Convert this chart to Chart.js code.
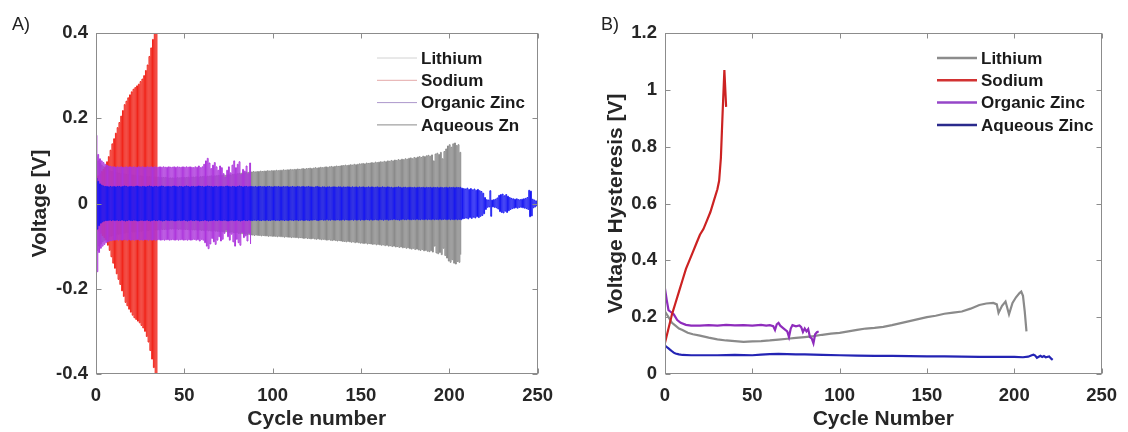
<!DOCTYPE html>
<html>
<head>
<meta charset="utf-8">
<script src="https://cdn.jsdelivr.net/npm/chart.js@4.4.1/dist/chart.umd.min.js"></script>
<style>
  body { margin: 0; background: #fff; }
  #wrap { position: relative; width: 1128px; height: 432px; }
  canvas { position: absolute; top: 0; }
  #chartA { left: 0; }
  #chartB { left: 564px; }
  .tag { position: absolute; top: 14px; font: 18px "Liberation Sans", Arial, sans-serif; color: #222; }
</style>
</head>
<body>
<div id="wrap">
  <canvas id="chartA" width="564" height="432"></canvas>
  <canvas id="chartB" width="564" height="432"></canvas>
  <div class="tag" style="left:12px">A)</div>
  <div class="tag" style="left:601px">B)</div>
</div>
<script>
const FONT = '"Liberation Sans", Arial, sans-serif';

const cycleTicks = [0, 50, 100, 150, 200, 250];
const voltageTicks = [-0.4, -0.2, 0, 0.2, 0.4];
const hysteresisTicks = [0, 0.2, 0.4, 0.6, 0.8, 1, 1.2];
const namesA = ['Lithium', 'Sodium', 'Organic Zinc', 'Aqueous Zn'];
const namesB = ['Lithium', 'Sodium', 'Organic Zinc', 'Aqueous Zinc'];

// half peak-to-peak voltage swing of each cycle, in mV
const liSwing = [
  110, 100, 95, 90, 86, 83, 80, 78, 76, 75,
  74, 73, 72, 71, 70, 70, 69, 68, 68, 67,
  67, 66, 66, 65, 65, 65, 64, 64, 64, 63,
  63, 63, 62, 62, 62, 62, 61, 61, 61, 61,
  61, 60, 60, 60, 60, 60, 61, 60, 61, 61,
  61, 61, 62, 61, 62, 62, 62, 63, 62, 63,
  63, 64, 63, 64, 64, 65, 64, 65, 65, 66,
  66, 66, 67, 66, 67, 68, 67, 68, 69, 68,
  70, 71, 71, 72, 72, 73, 73, 74, 74, 75,
  74, 75, 75, 76, 75, 76, 76, 77, 76, 77,
  77, 77, 78, 77, 78, 78, 79, 78, 79, 79,
  80, 79, 80, 80, 81, 80, 81, 82, 81, 82,
  82, 83, 82, 83, 84, 83, 84, 85, 84, 85,
  86, 85, 86, 87, 86, 87, 88, 87, 88, 89,
  89, 90, 89, 90, 91, 90, 92, 91, 92, 93,
  93, 94, 93, 95, 94, 95, 96, 95, 97, 96,
  97, 98, 97, 99, 98, 100, 99, 101, 100, 102,
  101, 103, 102, 104, 103, 105, 104, 106, 107, 105,
  108, 107, 109, 110, 108, 111, 110, 112, 113, 111,
  114, 100, 116, 118, 115, 120, 105, 122, 128, 135,
  138, 132, 140, 142, 136, 138, 120
];
const naSwing = [
  60, 65, 70, 75, 80, 86, 98, 110, 125, 140,
  152, 165, 178, 190, 205, 218, 232, 240, 248, 255,
  262, 268, 272, 276, 280, 286, 292, 300, 312, 325,
  345, 365, 385, 415, 440
];
const orgSwing = [
  160, 115, 105, 100, 96, 92, 90, 88, 87, 86,
  86, 85, 86, 85, 86, 85, 85, 86, 85, 86,
  85, 86, 85, 85, 86, 85, 86, 85, 85, 86,
  85, 86, 85, 86, 85, 85, 86, 85, 86, 85,
  85, 86, 85, 85, 86, 85, 86, 85, 85, 86,
  85, 86, 85, 86, 85, 84, 86, 85, 88, 84,
  86, 92, 100, 106, 95, 82, 90, 96, 86, 78,
  88, 84, 70, 62, 78, 86, 72, 90, 100, 84,
  92, 98, 68, 80, 76, 88, 70, 95
];
const aqSwing = [
  60, 52, 46, 43, 41, 40, 40, 39, 40, 39,
  40, 39, 40, 40, 39, 40, 41, 40, 39, 40,
  40, 39, 40, 41, 40, 39, 40, 40, 39, 40,
  41, 40, 39, 40, 40, 39, 40, 41, 40, 39,
  40, 40, 39, 40, 41, 40, 39, 40, 40, 39,
  40, 41, 40, 39, 40, 40, 39, 40, 41, 40,
  40, 39, 40, 41, 40, 40, 39, 40, 40, 39,
  40, 40, 39, 40, 41, 40, 39, 40, 40, 39,
  40, 41, 40, 39, 40, 40, 39, 40, 40, 39,
  40, 39, 40, 40, 39, 40, 39, 40, 40, 39,
  39, 40, 39, 40, 39, 39, 40, 39, 40, 39,
  39, 40, 39, 39, 40, 39, 39, 40, 39, 39,
  40, 39, 39, 38, 39, 40, 39, 38, 39, 39,
  38, 39, 39, 38, 39, 39, 38, 39, 39, 38,
  39, 38, 39, 39, 38, 39, 38, 39, 38, 39,
  38, 39, 38, 38, 39, 38, 39, 38, 38, 39,
  38, 38, 39, 38, 38, 39, 38, 38, 37, 38,
  38, 39, 38, 37, 38, 38, 37, 38, 38, 37,
  38, 37, 38, 38, 37, 38, 37, 38, 37, 38,
  37, 38, 37, 38, 37, 38, 37, 37, 38, 37,
  38, 37, 38, 37, 38, 37, 38, 36, 35, 34,
  36, 33, 35, 32, 34, 31, 33, 30, 28, 24,
  14, 9, 8, 30, 8, 9, 10, 13, 19, 21,
  22, 18, 21, 17, 14, 12, 11, 10, 11, 9,
  9, 10, 11, 12, 14, 31, 29, 10, 8, 6
];

// voltage hysteresis against cycle number
const liCycles = [0, 2, 4, 6, 8, 10, 13, 16, 20, 25, 30, 35, 40, 45, 50, 55, 60, 65, 70, 75,
  80, 85, 90, 95, 100, 105, 110, 115, 120, 125, 130, 135, 140, 145, 150, 155, 160, 165, 170, 175,
  180, 184, 188, 190, 191, 193, 195, 197, 199, 201, 203, 204, 205, 206, 207];
const liHyst = [0.22, 0.2, 0.18, 0.17, 0.16, 0.155, 0.145, 0.14, 0.135, 0.128, 0.122, 0.118, 0.116, 0.113, 0.115, 0.116, 0.118, 0.121, 0.124, 0.127,
  0.13, 0.133, 0.138, 0.142, 0.145, 0.15, 0.155, 0.16, 0.162, 0.166, 0.172, 0.179, 0.186, 0.193, 0.2, 0.205, 0.212, 0.216, 0.22, 0.23,
  0.243, 0.248, 0.25, 0.245, 0.215, 0.24, 0.255, 0.21, 0.25, 0.27, 0.285, 0.29, 0.275, 0.22, 0.15];
const naCycles = [0, 2, 4, 6, 8, 10, 12, 14, 16, 18, 20, 22, 24, 26, 28, 30, 31, 32, 33, 34, 35];
const naHyst = [0.11, 0.16, 0.21, 0.25, 0.29, 0.33, 0.37, 0.4, 0.43, 0.46, 0.49, 0.51, 0.54, 0.57, 0.61, 0.65, 0.68, 0.76, 0.92, 1.07, 0.94];
const orgCycles = [0, 1, 2, 3, 5, 7, 9, 12, 15, 20, 25, 30, 35, 40, 45, 50, 55, 58, 60, 62, 63,
  64, 65, 66, 68, 70, 71, 72, 73, 75, 77, 78, 79, 80, 81, 82, 83, 84, 85, 86, 87, 88];
const orgHyst = [0.3, 0.26, 0.225, 0.22, 0.21, 0.19, 0.18, 0.173, 0.17, 0.17, 0.172, 0.17, 0.173, 0.171, 0.172, 0.17, 0.173, 0.17, 0.172, 0.168, 0.155,
  0.175, 0.18, 0.17, 0.16, 0.15, 0.13, 0.16, 0.172, 0.168, 0.171, 0.165, 0.148, 0.16, 0.15, 0.158, 0.13, 0.125, 0.108, 0.14, 0.147, 0.15];
const aqCycles = [0, 1, 2, 3, 4, 5, 6, 8, 10, 15, 20, 30, 40, 50, 55, 60, 65, 70, 75, 80, 90, 100, 110,
  120, 130, 140, 150, 160, 170, 180, 190, 200, 205, 208, 210, 211, 212, 213, 215, 216, 217, 218, 220, 221, 222];
const aqHyst = [0.1, 0.095, 0.09, 0.085, 0.08, 0.075, 0.072, 0.069, 0.067, 0.066, 0.066, 0.066, 0.067, 0.066, 0.068, 0.07, 0.071, 0.07, 0.069, 0.069, 0.067, 0.066, 0.065,
  0.064, 0.064, 0.063, 0.062, 0.062, 0.061, 0.06, 0.06, 0.06, 0.059, 0.061, 0.066, 0.068, 0.065, 0.057, 0.064, 0.06, 0.063, 0.059, 0.062, 0.055, 0.05];

// each cycle sits at +swing for the charge half and -swing for the discharge half
function toTrace(swing) {
  const pts = [];
  swing.forEach((mv, i) => {
    pts.push({ x: i, y: mv / 1000 });
    pts.push({ x: i + 0.5, y: -mv / 1000 });
  });
  return pts;
}

function toLine(cycles, values) {
  return cycles.map((c, i) => ({ x: c, y: values[i] }));
}

// frame around the plot with inward ticks on all four sides
const boxFrame = {
  id: 'boxFrame',
  afterDatasetsDraw(chart) {
    const { ctx, chartArea: a, scales: { x, y } } = chart;
    const L = Math.round(a.left) + 0.5, R = Math.round(a.right) - 0.5;
    const T = Math.round(a.top) + 0.5, B = Math.round(a.bottom) - 0.5;
    ctx.save();
    ctx.strokeStyle = '#8c8c8c';
    ctx.lineWidth = 1;
    ctx.strokeRect(L, T, R - L, B - T);
    ctx.beginPath();
    x.ticks.forEach(t => {
      const px = Math.round(x.getPixelForValue(t.value)) + 0.5;
      ctx.moveTo(px, B); ctx.lineTo(px, B - 5);
      ctx.moveTo(px, T); ctx.lineTo(px, T + 5);
    });
    y.ticks.forEach(t => {
      const py = Math.round(y.getPixelForValue(t.value)) + 0.5;
      ctx.moveTo(L, py); ctx.lineTo(L + 5, py);
      ctx.moveTo(R, py); ctx.lineTo(R - 5, py);
    });
    ctx.stroke();
    ctx.restore();
  }
};

const insetLegend = {
  id: 'insetLegend',
  afterDraw(chart, args, opts) {
    const { ctx } = chart;
    ctx.save();
    ctx.font = 'bold 17px ' + FONT;
    ctx.textBaseline = 'middle';
    ctx.fillStyle = '#1a1a1a';
    opts.labels.forEach((label, i) => {
      const y = opts.top + i * opts.rowGap;
      ctx.strokeStyle = opts.colors[i];
      ctx.lineWidth = opts.lineWidth;
      ctx.beginPath();
      ctx.moveTo(opts.left, y);
      ctx.lineTo(opts.left + 40, y);
      ctx.stroke();
      ctx.fillText(label, opts.left + 44, y + 1);
    });
    ctx.restore();
  }
};

function buildScales(yTicks, yMin, yMax, yTitle, xTitle, yWidth, yTitlePad) {
  const tickFont = { family: FONT, size: 18.5, weight: 'bold' };
  const titleFont = { family: FONT, size: 21, weight: 'bold' };
  return {
    x: {
      type: 'linear', min: 0, max: 250,
      afterBuildTicks: s => { s.ticks = cycleTicks.map(v => ({ value: v })); },
      afterFit: s => { s.height = 58; },
      ticks: { font: tickFont, color: '#262626', padding: 11, maxRotation: 0, autoSkip: false },
      grid: { display: false, drawTicks: false },
      border: { display: false },
      title: { display: true, text: xTitle, font: titleFont, color: '#262626', padding: { top: 0, bottom: 0 } }
    },
    y: {
      type: 'linear', min: yMin, max: yMax,
      afterBuildTicks: s => { s.ticks = yTicks.map(v => ({ value: v })); },
      afterFit: s => { s.width = yWidth; },
      ticks: { font: tickFont, color: '#262626', padding: 8, callback: v => String(v) },
      grid: { display: false, drawTicks: false },
      border: { display: false },
      title: { display: true, text: yTitle, font: titleFont, color: '#262626', padding: { top: yTitlePad, bottom: 0 } }
    }
  };
}

new Chart(document.getElementById('chartA'), {
  type: 'line',
  data: {
    datasets: [
      { label: namesA[0], data: toTrace(liSwing), borderColor: '#8a8a8a', order: 4 },
      { label: namesA[1], data: toTrace(naSwing), borderColor: '#f0241a', order: 3 },
      { label: namesA[2], data: toTrace(orgSwing), borderColor: '#ad36dc', order: 2 },
      { label: namesA[3], data: toTrace(aqSwing), borderColor: '#1818f2', order: 1 }
    ]
  },
  options: {
    responsive: false,
    animation: false,
    devicePixelRatio: 1,
    layout: { padding: { top: 33, right: 23, left: 0, bottom: 0 } },
    elements: { point: { radius: 0 }, line: { borderWidth: 1, tension: 0, stepped: true } },
    scales: buildScales(voltageTicks, -0.4, 0.4, 'Voltage [V]', 'Cycle number', 96, 27.4),
    plugins: {
      legend: { display: false },
      tooltip: { enabled: false },
      insetLegend: {
        labels: namesA, left: 377, top: 58, rowGap: 22.3, lineWidth: 1,
        colors: ['#d2d2d2', '#e4a8a8', '#ad98cc', '#8a8a8a']
      }
    }
  },
  plugins: [boxFrame, insetLegend]
});

new Chart(document.getElementById('chartB'), {
  type: 'line',
  data: {
    datasets: [
      { label: namesB[0], data: toLine(liCycles, liHyst), borderColor: '#8a8a8a', order: 3 },
      { label: namesB[1], data: toLine(naCycles, naHyst), borderColor: '#cc2222', order: 1 },
      { label: namesB[2], data: toLine(orgCycles, orgHyst), borderColor: '#8e2cbc', order: 2 },
      { label: namesB[3], data: toLine(aqCycles, aqHyst), borderColor: '#2424b4', order: 4 }
    ]
  },
  options: {
    responsive: false,
    animation: false,
    devicePixelRatio: 1,
    layout: { padding: { top: 33, right: 19, left: 0, bottom: 0 } },
    elements: { point: { radius: 0 }, line: { borderWidth: 2.2, tension: 0 } },
    scales: buildScales(hysteresisTicks, 0, 1.2, 'Voltage Hysteresis [V]', 'Cycle Number', 101, 39.4),
    plugins: {
      legend: { display: false },
      tooltip: { enabled: false },
      insetLegend: {
        labels: namesB, left: 373, top: 58, rowGap: 22.3, lineWidth: 2.5,
        colors: ['#8c8c8c', '#d23232', '#9646c8', '#2a2a8c']
      }
    }
  },
  plugins: [boxFrame, insetLegend]
});
</script>
</body>
</html>
